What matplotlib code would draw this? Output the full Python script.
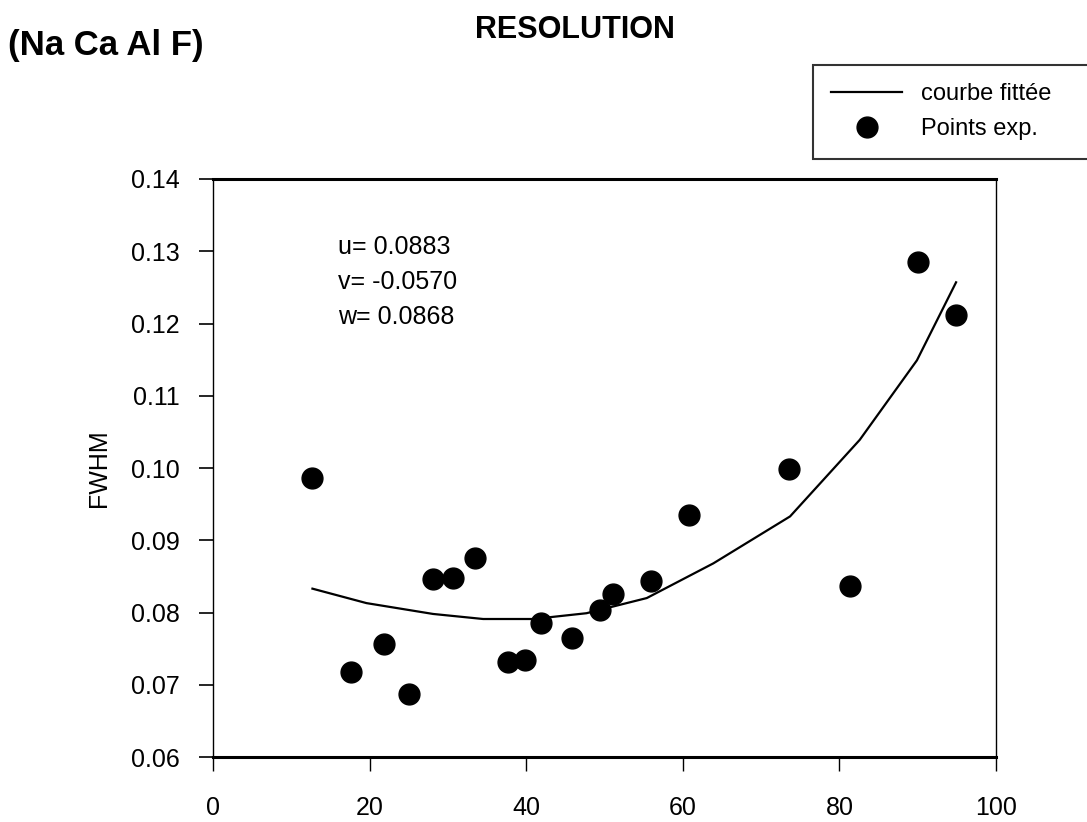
import matplotlib
matplotlib.use("Agg")
import matplotlib.pyplot as plt

plt.rcParams["font.family"] = ["Liberation Sans", "DejaVu Sans"]

# points expérimentaux (2theta, FWHM)
x_exp = [12.7, 17.6, 21.8, 25.0, 28.1, 30.7, 33.5, 37.7, 39.9, 41.9,
         45.8, 49.4, 51.1, 55.9, 60.8, 73.6, 81.4, 90.0, 94.9]
fwhm_exp = [0.0986, 0.0717, 0.0757, 0.0687, 0.0846, 0.0848, 0.0875, 0.0732, 0.0734, 0.0785,
            0.0765, 0.0803, 0.0825, 0.0843, 0.0935, 0.0999, 0.0836, 0.1285, 0.1212]

# courbe fittée (u, v, w)
x_fit = [12.7, 19.6, 28.1, 34.5, 40.9, 47.7, 55.4, 63.9, 73.7, 77.9, 82.6, 89.9, 94.9]
fwhm_fit = [0.0833, 0.0813, 0.0798, 0.0791, 0.0791, 0.0799, 0.0820, 0.0868, 0.0933,
            0.0983, 0.1039, 0.1149, 0.1257]

params = ["u= 0.0883", "v= -0.0570", "w= 0.0868"]
xticks = [0, 20, 40, 60, 80, 100]
yticks = [0.06, 0.07, 0.08, 0.09, 0.10, 0.11, 0.12, 0.13, 0.14]

W, H = 1087, 822
fig = plt.figure(figsize=(W / 100, H / 100), dpi=100)
ax = fig.add_axes([213 / W, 1 - 757 / H, (996 - 213) / W, (757 - 179) / H])

ax.plot(x_fit, fwhm_fit, color="black", lw=1.6, label="courbe fittée")
ax.plot(x_exp, fwhm_exp, "o", color="black", ms=15, label="Points exp.")

ax.set_xlim(0, 100)
ax.set_ylim(0.06, 0.14)
ax.set_xticks(xticks)
ax.set_xticklabels([str(t) for t in xticks])
ax.set_yticks(yticks)
ax.set_yticklabels([f"{t:.2f}" for t in yticks])
ax.tick_params(axis="x", direction="out", length=10, width=1, pad=18, labelsize=18)
ax.tick_params(axis="y", direction="out", length=10, width=1.2, pad=14, labelsize=18)
ax.spines["top"].set_linewidth(2.2)
ax.spines["bottom"].set_linewidth(2.2)
ax.spines["left"].set_linewidth(1.0)
ax.spines["right"].set_linewidth(1.0)

ax.set_ylabel("FWHM", fontsize=18, labelpad=14)

for i, s in enumerate(params):
    fig.text(338 / W, 1 - (247 + 35 * i) / H, s, fontsize=18, va="center", ha="left")

fig.text(8 / W, 1 - 45 / H, "(Na Ca Al F)", fontsize=25, fontweight="bold", va="center")
fig.text(575 / W, 1 - 30 / H, "RESOLUTION", fontsize=22, fontweight="bold",
         va="center", ha="center")

# cadre de légende qui déborde à droite de la figure
leg = ax.legend(loc="upper left", mode="expand",
                bbox_to_anchor=(813 / W, 1 - 65 / H, 320 / W, 0),
                bbox_transform=fig.transFigure, fontsize=17, frameon=True,
                fancybox=False, edgecolor="black", handlelength=3.0,
                borderaxespad=0, borderpad=0.78, labelspacing=0.55)
leg.get_frame().set_linewidth(1.5)

fig.savefig("out.png", dpi=100)
